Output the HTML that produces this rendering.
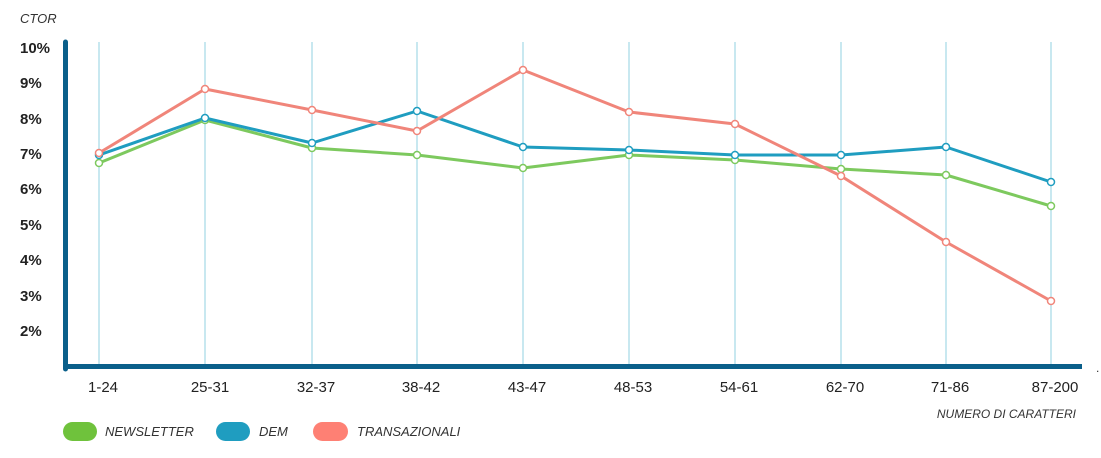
<!DOCTYPE html><html><head><meta charset="utf-8"><style>body{margin:0;background:#fff}svg{display:block}text{font-family:"Liberation Sans",sans-serif}</style></head><body>
<svg width="1101" height="458" viewBox="0 0 1101 458">
<text x="20" y="23" font-size="13" font-style="italic" fill="#333">CTOR</text>
<g font-size="15" font-weight="bold" fill="#222">
<text x="20" y="53">10%</text><text x="20" y="88">9%</text><text x="20" y="124">8%</text><text x="20" y="159">7%</text><text x="20" y="194">6%</text><text x="20" y="230">5%</text><text x="20" y="265">4%</text><text x="20" y="301">3%</text><text x="20" y="336">2%</text></g>
<g stroke="#c8e8f0" stroke-width="2">
<line x1="99" y1="42" x2="99" y2="365"/><line x1="205" y1="42" x2="205" y2="365"/><line x1="312" y1="42" x2="312" y2="365"/><line x1="417" y1="42" x2="417" y2="365"/><line x1="523" y1="42" x2="523" y2="365"/><line x1="629" y1="42" x2="629" y2="365"/><line x1="735" y1="42" x2="735" y2="365"/><line x1="841" y1="42" x2="841" y2="365"/><line x1="946" y1="42" x2="946" y2="365"/><line x1="1051" y1="42" x2="1051" y2="365"/></g>
<line x1="65.5" y1="42" x2="65.5" y2="369" stroke="#0a5f8a" stroke-width="5" stroke-linecap="round"/>
<line x1="63" y1="366.5" x2="1082" y2="366.5" stroke="#0a5f8a" stroke-width="5"/>
<g font-size="15" fill="#222" text-anchor="middle">
<text x="103" y="392">1-24</text><text x="210" y="392">25-31</text><text x="316" y="392">32-37</text><text x="421" y="392">38-42</text><text x="527" y="392">43-47</text><text x="633" y="392">48-53</text><text x="739" y="392">54-61</text><text x="845" y="392">62-70</text><text x="950" y="392">71-86</text><text x="1055" y="392">87-200</text></g>
<text x="1076" y="418" font-size="12" font-style="italic" fill="#333" text-anchor="end">NUMERO DI CARATTERI</text>
<g fill="none" stroke-width="3" stroke-linejoin="round">
<polyline stroke="#7dc95e" points="99,163 205,120 312,148 417,155 523,168 629,155 735,160 841,169 946,175 1051,206"/>
<polyline stroke="#1f9dc0" points="99,155 205,118 312,143 417,111 523,147 629,150 735,155 841,155 946,147 1051,182"/>
<polyline stroke="#f0857a" points="99,153 205,89 312,110 417,131 523,70 629,112 735,124 841,176 946,242 1051,301"/></g>
<g fill="#fff" stroke-width="1.5">
<g stroke="#7dc95e"><circle cx="99" cy="163" r="3.5"/><circle cx="205" cy="120" r="3.5"/><circle cx="312" cy="148" r="3.5"/><circle cx="417" cy="155" r="3.5"/><circle cx="523" cy="168" r="3.5"/><circle cx="629" cy="155" r="3.5"/><circle cx="735" cy="160" r="3.5"/><circle cx="841" cy="169" r="3.5"/><circle cx="946" cy="175" r="3.5"/><circle cx="1051" cy="206" r="3.5"/></g>
<g stroke="#1f9dc0"><circle cx="99" cy="155" r="3.5"/><circle cx="205" cy="118" r="3.5"/><circle cx="312" cy="143" r="3.5"/><circle cx="417" cy="111" r="3.5"/><circle cx="523" cy="147" r="3.5"/><circle cx="629" cy="150" r="3.5"/><circle cx="735" cy="155" r="3.5"/><circle cx="841" cy="155" r="3.5"/><circle cx="946" cy="147" r="3.5"/><circle cx="1051" cy="182" r="3.5"/></g>
<g stroke="#f0857a"><circle cx="99" cy="153" r="3.5"/><circle cx="205" cy="89" r="3.5"/><circle cx="312" cy="110" r="3.5"/><circle cx="417" cy="131" r="3.5"/><circle cx="523" cy="70" r="3.5"/><circle cx="629" cy="112" r="3.5"/><circle cx="735" cy="124" r="3.5"/><circle cx="841" cy="176" r="3.5"/><circle cx="946" cy="242" r="3.5"/><circle cx="1051" cy="301" r="3.5"/></g></g>
<rect x="63" y="422" width="34" height="19" rx="9.5" fill="#6fc23c"/>
<rect x="216" y="422" width="34" height="19" rx="9.5" fill="#1f9dc0"/>
<rect x="313" y="422" width="35" height="19" rx="9.5" fill="#fe8074"/>
<g font-size="13" font-style="italic" fill="#333">
<text x="105" y="436">NEWSLETTER</text><text x="259" y="436">DEM</text><text x="357" y="436">TRANSAZIONALI</text></g>
<text x="1096" y="372" font-size="12" fill="#333">.</text>
</svg></body></html>
